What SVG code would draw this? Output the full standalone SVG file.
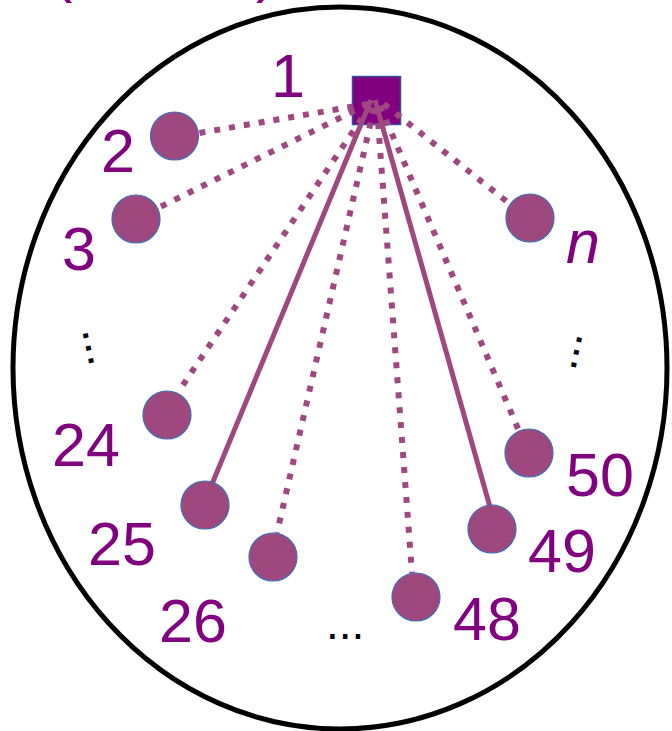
<svg xmlns="http://www.w3.org/2000/svg" width="672" height="731" viewBox="0 0 672 731">
<style>
.lbl{font-family:"Liberation Sans",Arial,sans-serif;font-size:61px;fill:#800080}
.dots{font-family:"Liberation Sans",Arial,sans-serif;font-size:46px;fill:#000}
.node{fill:#9F4880;stroke:#3E6DB5;stroke-width:1.2}
.dot{stroke:#9F4880;stroke-width:6;stroke-dasharray:6 9;fill:none}
.solid{stroke:#9F4880;stroke-width:5;fill:none}
</style>
<rect width="672" height="731" fill="#fff"/>
<text class="lbl" x="52" y="-10">(</text>
<text class="lbl" x="256" y="-10">)</text>
<ellipse cx="340" cy="368" rx="327" ry="361" fill="none" stroke="#000" stroke-width="5"/>
<g id="hub"><rect x="352.5" y="76.5" width="48" height="48" fill="#800080" stroke="#2F5597" stroke-width="1.5"/><text class="lbl" x="271" y="97">1</text></g>
<g id="connectors">
<line class="dot" x1="368" y1="104" x2="199" y2="133"/>
<line class="dot" x1="368" y1="104" x2="158" y2="208"/>
<line class="dot" x1="370" y1="106" x2="179" y2="391"/>
<line class="dot" x1="374" y1="108" x2="277" y2="533"/>
<line class="dot" x1="377" y1="108" x2="412" y2="573"/>
<line class="dot" x1="380" y1="106" x2="519" y2="431"/>
<line class="dot" x1="384" y1="104" x2="510" y2="204"/>
<line class="solid" x1="371" y1="100" x2="212" y2="484"/>
<line class="solid" x1="375" y1="100" x2="490" y2="507"/>
</g>
<g id="n2"><circle class="node" cx="174.5" cy="136" r="24"/><text class="lbl" x="101" y="172">2</text></g>
<g id="n3"><circle class="node" cx="136" cy="219" r="24"/><text class="lbl" x="62" y="270">3</text></g>
<g id="nn"><circle class="node" cx="530" cy="218" r="24"/><text class="lbl" x="566" y="263" font-style="italic">n</text></g>
<g id="n24"><circle class="node" cx="167" cy="415" r="24"/><text class="lbl" x="52" y="466">24</text></g>
<g id="n25"><circle class="node" cx="205" cy="505" r="24"/><text class="lbl" x="88" y="565">25</text></g>
<g id="n26"><circle class="node" cx="273" cy="557" r="24"/><text class="lbl" x="159" y="642">26</text></g>
<g id="n48"><circle class="node" cx="416" cy="597" r="24"/><text class="lbl" x="453" y="640">48</text></g>
<g id="n49"><circle class="node" cx="492" cy="529" r="24"/><text class="lbl" x="528" y="572">49</text></g>
<g id="n50"><circle class="node" cx="529" cy="453" r="24"/><text class="lbl" x="566" y="496">50</text></g>
<text class="dots" transform="translate(82,330) rotate(78)">...</text>
<text class="dots" transform="translate(578,333) rotate(102)">...</text>
<text class="dots" x="326" y="639">...</text>
</svg>
